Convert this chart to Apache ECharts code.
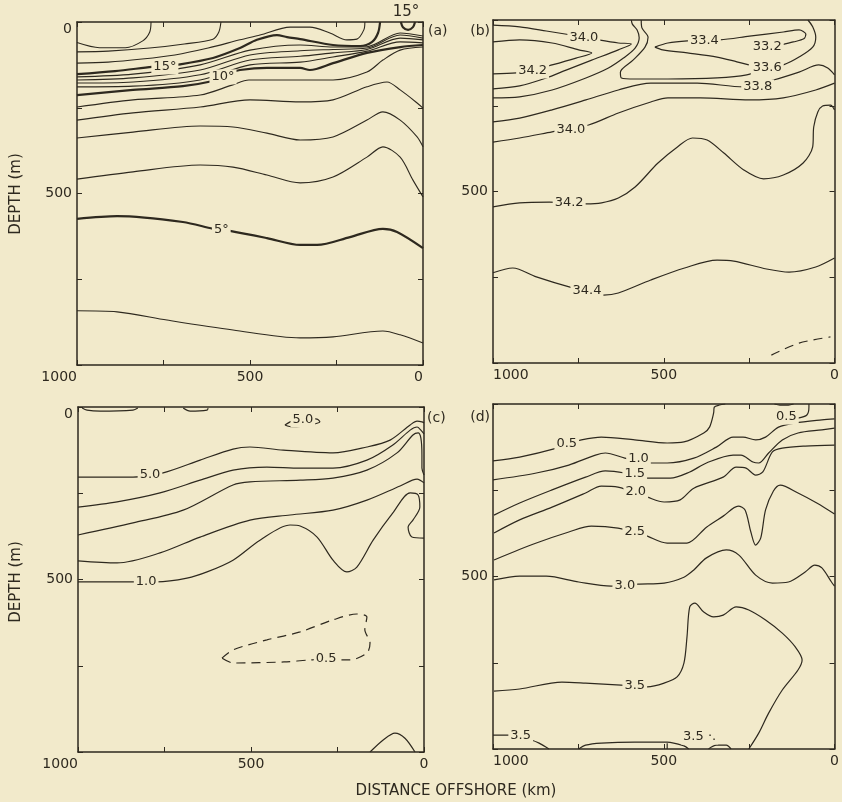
<!DOCTYPE html>
<html><head><meta charset="utf-8">
<script src="https://cdn.jsdelivr.net/npm/echarts@6.0.0/dist/echarts.min.js"></script>
<style>html,body{margin:0;padding:0;background:#f2eacb}#c{width:842px;height:802px}</style>
</head><body><div id="c"></div><script>
// ---------- tick labels ----------
const xTickLabels = [1000, 500, 0];
const yTickLabelsA = [0, 500];
const yTickLabelsB = [500];
const yTickLabelsC = [0, 500];
const yTickLabelsD = [500];

// ---------- (a) temperature, [km offshore, depth m] ----------
const A_c1 = [[1000,60],[935,75],[860,75],[810,55],[790,30],[786,0]];
const A_c2 = [[1000,87],[910,85],[790,76],[690,64],[607,50],[590,29],[584,0]];
const A_c3 = [[1000,120],[910,117],[812,108],[717,96],[621,76],[529,52],[471,38],[384,15],[327,15],[269,32],[220,52],[191,50],[171,23],[168,0]];
const A_15 = [[1000,152],[890,143],[783,131],[746,128],[711,125],[607,105],[529,76],[480,52],[422,38],[393,44],[355,50],[260,67],[182,70],[147,58],[130,32],[124,0]];
const A_14 = [[1000,160],[838,152],[644,125],[500,82],[355,67],[260,73],[162,72],[66,32],[0,41]];
const A_13 = [[1000,169],[838,163],[644,140],[500,96],[355,84],[260,80],[162,76],[66,38],[0,47]];
const A_12 = [[1000,178],[838,175],[644,154],[500,111],[355,100],[260,90],[162,80],[66,47],[0,52]];
const A_11 = [[1000,189],[838,187],[644,169],[500,125],[355,117],[260,102],[162,85],[66,58],[0,61]];
const A_10 = [[1000,213],[838,198],[694,187],[607,172],[578,160],[558,149],[529,140],[451,134],[355,134],[327,140],[260,120],[162,90],[66,73],[0,67]];
const A_9 = [[1000,248],[838,227],[644,213],[552,184],[503,169],[355,169],[260,169],[162,146],[116,111],[66,82],[0,73]];
const A_8 = [[1000,286],[838,265],[644,248],[500,227],[355,233],[260,227],[162,189],[104,175],[66,198],[17,236],[0,251]];
const A_7 = [[1000,338],[838,321],[644,303],[549,306],[451,324],[355,344],[260,335],[162,286],[116,262],[66,286],[17,335],[0,364]];
const A_6 = [[1000,458],[838,437],[644,417],[549,423],[451,446],[355,469],[260,452],[162,394],[116,364],[66,394],[29,461],[0,510]];
const A_5 = [[1000,574],[884,566],[694,583],[607,603],[583,606],[558,609],[451,630],[355,650],[306,650],[211,627],[116,603],[75,612],[0,659]];
const A_4 = [[1000,842],[884,845],[740,869],[549,898],[355,921],[260,918],[116,901],[66,912],[0,936]];
const A_15loop = [[64,0],[58,15],[43,23],[29,15],[23,0]];
const A_labels = [[746,131,'15°'],[578,160,'10°'],[583,606,'5°']];

// ---------- (b) salinity ----------
const B_340a = [[1000,15],[922,20],[844,32],[734,50],[691,58],[633,67],[595,70],[633,87],[711,117],[786,146],[844,169],[922,192],[1000,201]];
const B_342a = [[1000,64],[922,58],[827,67],[749,87],[711,96],[757,111],[827,131],[884,146],[931,154],[1000,157]];
const B_338a = [[1000,227],[922,224],[827,204],[728,169],[662,140],[618,111],[584,82],[572,52],[578,29],[592,12],[595,0]];
const B_336 = [[566,0],[564,23],[546,50],[555,79],[590,117],[627,152],[624,169],[584,172],[488,172],[344,169],[257,160],[197,140],[150,131],[104,108],[64,79],[55,50],[64,20],[78,0]];
const B_334 = [[526,79],[488,67],[431,61],[335,58],[249,47],[150,35],[104,29],[84,41],[90,55],[121,64],[156,73]];
const B_334low = [[526,79],[503,87],[431,96],[344,108],[286,122],[251,131]];
const B_338b = [[1000,297],[922,286],[827,262],[728,233],[633,204],[538,184],[402,184],[266,195],[179,175],[104,152],[46,131],[20,140],[0,160]];
const B_340b = [[1000,356],[922,344],[827,326],[720,306],[633,271],[538,239],[488,227],[393,227],[249,233],[150,227],[55,204],[0,184]];
const B_342b = [[1000,545],[922,533],[835,531],[728,536],[682,533],[633,519],[584,487],[517,417],[460,370],[416,344],[373,350],[324,388],[266,437],[208,463],[150,452],[92,417],[64,370],[61,312],[49,268],[35,251],[12,248],[0,262]];
const B_344 = [[1000,737],[942,723],[873,749],[777,778],[676,802],[633,796],[538,758],[439,723],[344,700],[295,703],[199,726],[133,735],[55,720],[0,694]];
const B_dash = [[185,977],[104,942],[12,924]];
const B_labels = [[734,50,'34.0'],[884,149,'34.2'],[381,61,'33.4'],[197,79,'33.2'],[197,140,'33.6'],[225,195,'33.8'],[772,321,'34.0'],[777,531,'34.2'],[725,790,'34.4']];

// ---------- (c) oxygen ----------
const C_lens1 = [[988,3],[974,9],[936,12],[841,9],[827,3]];
const C_lens2 = [[696,3],[676,12],[627,9],[624,3]];
const C_50loop = [[402,52],[387,43],[358,32],[309,35],[301,43],[329,52],[379,58],[402,52]];
const C_A = [[1000,203],[841,203],[754,191],[647,154],[552,122],[503,116],[407,125],[263,133],[165,116],[98,96],[40,52],[20,41],[6,43],[0,46]];
const C_B = [[1000,290],[887,275],[763,249],[647,212],[552,183],[454,174],[358,177],[263,177],[165,154],[90,110],[40,67],[20,58],[9,67],[0,78]];
const C_C = [[1000,371],[841,336],[696,299],[552,226],[503,217],[358,212],[263,206],[165,183],[78,133],[32,81],[17,75],[9,90],[6,139],[6,177],[0,197]];
const C_D = [[1000,446],[887,452],[763,423],[647,377],[503,328],[387,313],[263,299],[165,270],[69,229],[20,209],[0,220]];
const C_E = [[1000,507],[841,507],[772,507],[685,496],[627,478],[552,444],[474,386],[387,342],[358,345],[309,377],[263,444],[223,478],[194,464],[147,386],[90,307],[40,249],[17,255],[12,290],[32,328],[46,348],[35,377],[0,380]];
const C_05 = [[584,728],[552,704],[454,675],[358,652],[263,617],[194,600],[165,609],[171,646],[156,684],[165,713],[214,733],[234,733],[283,730],[329,733],[405,739],[552,742],[584,728]];
const C_bump = [[156,1000],[118,965],[84,945],[55,960],[26,1000]];
const C_labels = [[350,38,'5.0'],[792,197,'5.0'],[803,507,'1.0'],[283,730,'0.5']];

// ---------- (d) phosphate ----------
const D_05 = [[1000,165],[922,154],[813,128],[784,116],[741,104],[683,96],[585,104],[490,113],[441,110],[383,84],[366,67],[354,26],[352,9],[337,3],[320,0]];
const D_05top = [[176,0],[160,3],[135,3],[120,0]];
const D_05hook = [[107,41],[81,32],[75,9],[75,0]];
const D_10 = [[1000,220],[873,200],[778,177],[700,148],[671,142],[614,157],[574,165],[539,171],[490,171],[412,157],[346,125],[297,96],[268,96],[231,104],[202,96],[164,67],[115,55],[37,46],[0,43]];
const D_15 = [[997,322],[922,287],[827,249],[729,212],[671,194],[614,200],[548,215],[481,215],[424,197],[375,171],[297,148],[274,148],[239,168],[222,171],[193,142],[153,104],[107,84],[37,75],[0,70]];
const D_20 = [[997,374],[922,336],[827,299],[729,258],[683,238],[634,241],[548,270],[499,284],[452,278],[412,244],[326,212],[288,183],[259,186],[231,206],[210,197],[182,139],[153,128],[86,122],[0,119]];
const D_25 = [[997,452],[873,403],[778,371],[712,354],[634,360],[556,380],[490,403],[432,403],[375,357],[326,325],[282,296],[262,307],[245,371],[231,409],[216,388],[202,307],[179,252],[159,235],[107,258],[52,287],[0,319]];
const D_30 = [[997,510],[922,499],[844,499],[749,516],[654,528],[576,522],[499,519],[441,502],[412,481],[375,446],[317,423],[280,438],[231,496],[182,519],[135,516],[86,487],[58,467],[37,475],[9,516],[0,528]];
const D_35 = [[997,832],[922,826],[798,806],[729,809],[625,815],[548,820],[499,809],[461,791],[441,751],[432,675],[424,588],[409,577],[383,603],[354,617],[326,612],[288,588],[251,597],[202,626],[153,664],[115,704],[95,742],[107,771],[153,829],[193,896],[222,954],[251,1000]];
const D_35s = [[1000,960],[945,960],[888,974],[865,983],[836,1000]];
const D_dome = [[749,1000],[729,989],[683,983],[585,980],[490,980],[441,991],[427,1000]];
const D_tick = [[490,983],[490,1000]];
const D_bump = [[369,1000],[346,989],[317,989],[303,1000]];
const D_labels = [[784,116,'0.5'],[141,38,'0.5'],[574,159,'1.0'],[585,203,'1.5'],[582,255,'2.0'],[585,371,'2.5'],[614,525,'3.0'],[585,815,'3.5'],[919,962,'3.5'],[395,965,'3.5 ·.']];

// ---------- styling / building ----------
const INK = '#2e291f';
const BG = '#f2eacb';
const FONT = 'DejaVu Sans, sans-serif';

const grids = [
  {left:77, top:22, width:346, height:343},
  {left:493, top:20, width:346, height:343},
  {left:78, top:407, width:346, height:345},
  {left:493, top:404, width:347, height:345}
];
const yLab = [yTickLabelsA, yTickLabelsB, yTickLabelsC, yTickLabelsD];
const minAlign = ['right','center','center','center'];
const maxAlign = ['right','left','right','left'];

const xAxes = [], yAxes = [];
grids.forEach((g, i) => {
  ['bottom','top'].forEach(pos => xAxes.push({
    type:'value', gridIndex:i, position:pos, min:0, max:1000, interval:250, inverse:true,
    axisLine:{show:true, onZero:false, lineStyle:{color:INK, width:1.5}},
    axisTick:{show:true, inside:true, length:5, lineStyle:{color:INK, width:1}},
    axisLabel:{show:pos==='bottom', margin:5, color:INK, fontSize:14, fontFamily:FONT,
      alignMinLabel:minAlign[i], alignMaxLabel:maxAlign[i],
      formatter: v => xTickLabels.includes(v) ? String(v) : ''},
    splitLine:{show:false}
  }));
  ['left','right'].forEach(pos => yAxes.push({
    type:'value', gridIndex:i, position:pos, min:0, max:1000, interval:250, inverse:true,
    axisLine:{show:true, onZero:false, lineStyle:{color:INK, width:1.5}},
    axisTick:{show:true, inside:true, length:5, lineStyle:{color:INK, width:1}},
    axisLabel:{show:pos==='left', margin:5, color:INK, fontSize:14, fontFamily:FONT,
      verticalAlignMinLabel:'top',
      formatter: v => yLab[i].includes(v) ? String(v) : ''},
    splitLine:{show:false}
  }));
});

function line(g, data, width, dashed) {
  return {type:'line', xAxisIndex:g*2, yAxisIndex:g*2, data, showSymbol:false, symbol:'none',
    smooth:0.3, clip:true, silent:true, animation:false, z:2,
    lineStyle:{color:INK, width:width, type: dashed ? [9,6] : 'solid'}};
}
function labels(g, items) {
  return {type:'scatter', xAxisIndex:g*2, yAxisIndex:g*2, symbol:'circle', symbolSize:1, silent:true, animation:false, z:6,
    itemStyle:{color:BG, opacity:1},
    data: items.map(([x,y,t]) => ({value:[x,y], name:t})),
    label:{show:true, position:'inside', formatter:'{b}', color:INK, opacity:1, fontSize:13, fontFamily:FONT,
      textBorderWidth:0, backgroundColor:BG, padding:[1,2]},
    emphasis:{disabled:true}};
}

const series = [];
[A_c1,A_c2,A_c3,A_14,A_13,A_12,A_11,A_9,A_8,A_7,A_6,A_4].forEach(d => series.push(line(0,d,1.1)));
[A_15,A_10,A_5,A_15loop].forEach(d => series.push(line(0,d,2.2)));
series.push(labels(0, A_labels));

[B_340a,B_342a,B_338a,B_336,B_334,B_334low,B_338b,B_340b,B_342b,B_344].forEach(d => series.push(line(1,d,1.2)));
series.push(line(1,B_dash,1.2,true));
series.push(labels(1, B_labels));

[C_lens1,C_lens2,C_50loop,C_A,C_B,C_C,C_D,C_E,C_bump].forEach(d => series.push(line(2,d,1.2)));
series.push(line(2,C_05,1.2,true));
series.push(labels(2, C_labels));

[D_05,D_05top,D_05hook,D_10,D_15,D_20,D_25,D_30,D_35,D_35s,D_dome,D_tick,D_bump].forEach(d => series.push(line(3,d,1.2)));
series.push(labels(3, D_labels));

function txt(text, x, y, align, size, rot) {
  return {type:'text', x, y, rotation: rot || 0, silent:true, z:10,
    style:{text, fill:INK, fontSize:size, fontFamily:FONT, align:align, verticalAlign:'middle'}};
}

const chart = echarts.init(document.getElementById('c'), null, {renderer:'canvas'});
chart.setOption({
  backgroundColor: BG,
  animation:false,
  grid: grids.map(g => Object.assign({containLabel:false}, g)),
  xAxis: xAxes,
  yAxis: yAxes,
  series,
  graphic: [
    txt('(a)', 428, 31, 'left', 14),
    txt('(b)', 490, 31, 'right', 14),
    txt('(c)', 427, 418, 'left', 14),
    txt('(d)', 490, 417, 'right', 14),
    txt('15°', 406, 12, 'center', 15),
    txt('DEPTH (m)', 16, 194, 'center', 15, Math.PI/2),
    txt('DEPTH (m)', 16, 582, 'center', 15, Math.PI/2),
    txt('DISTANCE OFFSHORE (km)', 456, 791, 'center', 15)
  ]
});
</script></body></html>
